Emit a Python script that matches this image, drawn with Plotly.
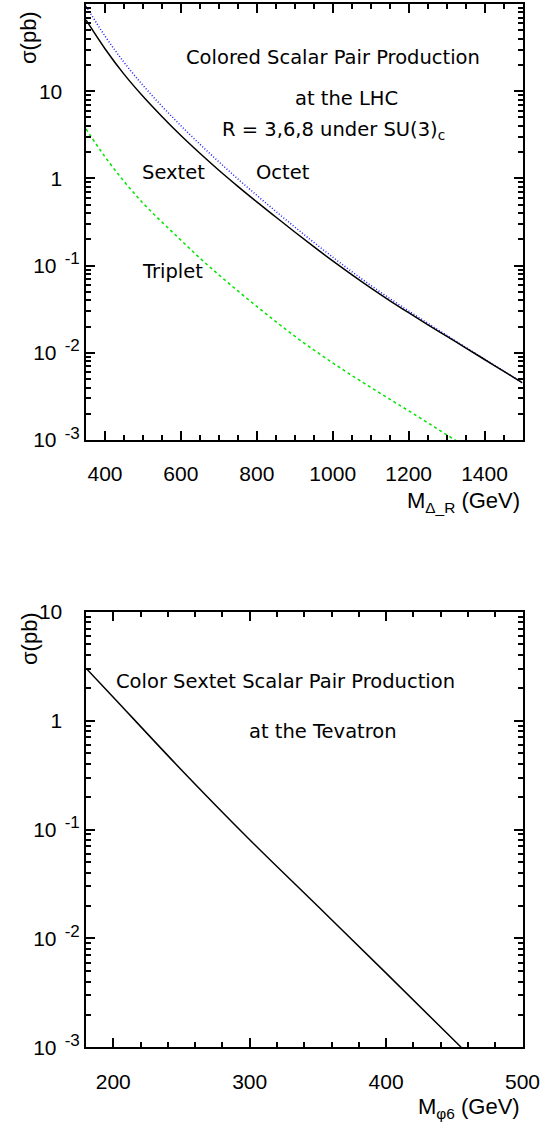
import math
import plotly.graph_objects as go

# LHC: pair-production cross sections (pb) vs scalar mass (GeV)
mass_lhc = [350, 400, 450, 500, 550, 600, 650, 700, 750, 800, 850, 900, 950, 1000,
            1050, 1100, 1150, 1200, 1250, 1300, 1350, 1400, 1450, 1500]
sigma_sextet = [65.6, 30.7, 15.7, 8.75, 5.13, 3.10, 1.94, 1.24, 0.811, 0.538, 0.361, 0.243, 0.165, 0.113,
                0.0787, 0.0555, 0.0397, 0.0288, 0.0211, 0.0155, 0.0114, 0.00838, 0.00615, 0.00452]
sigma_octet = [94.8, 42.9, 21.5, 11.7, 6.73, 4.02, 2.47, 1.55, 0.986, 0.640, 0.419, 0.277, 0.185, 0.125,
               0.0855, 0.0594, 0.0421, 0.0302, 0.0219, 0.0159, 0.0116, 0.00847, 0.00619, 0.00452]
sigma_triplet = [3.69, 1.77, 0.927, 0.521, 0.316, 0.196, 0.122, 0.0783, 0.0512, 0.0340, 0.0228, 0.0155, 0.0108, 0.00766,
                 0.00551, 0.00402, 0.00294, 0.00216, 0.00158, 0.00115, 0.000845, 0.000621, 0.000455, 0.000333]

# Tevatron: colour-sextet pair production
mass_tev = [180, 200, 250, 300, 350, 400, 455]
sigma_tev = [3.03, 1.64, 0.352, 0.0805, 0.0197, 0.0048, 0.0010]

x_ticks_lhc = [400, 600, 800, 1000, 1200, 1400]
x_ticks_tev = [200, 300, 400, 500]
y_ticks_lhc = [1e-3, 1e-2, 1e-1, 1, 10]
y_ticks_tev = [1e-3, 1e-2, 1e-1, 1, 10]

W, H = 544, 1130
NB = "\u00a0"


def ylabel(v):
    if v == 1:
        return "1" + NB * 3
    if v == 10:
        return "10" + NB * 3
    exp = int(round(math.log10(v)))
    return "10<sup>" + NB * 2 + "<span style=\"font-size:17px\">" + str(exp) + "</span></sup>"


def minor_log(lo, hi):
    vals = []
    for e in range(lo, hi):
        for k in range(2, 10):
            vals.append(k * 10 ** e)
    return vals


tick_font = dict(family="Liberation Sans, Arial, sans-serif", size=21, color="black")
text_font = dict(family="DejaVu Sans, sans-serif", size=19.5, color="black")

axis_common = dict(
    showline=True, linecolor="black", linewidth=2, mirror="allticks",
    ticks="inside", ticklen=9, tickwidth=1.5, tickcolor="black",
    showgrid=False, zeroline=False, tickfont=tick_font, automargin=False,
)

fig = go.Figure()

fig.add_trace(go.Scatter(x=mass_lhc, y=sigma_octet, mode="lines",
                         line=dict(color="#1a1aff", width=1.5, dash="1px,2px", shape="spline"),
                         xaxis="x", yaxis="y", name="Octet"))
fig.add_trace(go.Scatter(x=mass_lhc, y=sigma_sextet, mode="lines",
                         line=dict(color="black", width=1.5, shape="spline"),
                         xaxis="x", yaxis="y", name="Sextet"))
fig.add_trace(go.Scatter(x=mass_lhc, y=sigma_triplet, mode="lines",
                         line=dict(color="#00e600", width=1.5, dash="3px,3px", shape="spline"),
                         xaxis="x", yaxis="y", name="Triplet"))
fig.add_trace(go.Scatter(x=mass_tev, y=sigma_tev, mode="lines",
                         line=dict(color="black", width=1.5, shape="spline"),
                         xaxis="x2", yaxis="y2", name="Sextet (Tevatron)"))

xdom = [86 / W, 522.5 / W]

fig.update_layout(
    template="none",
    width=W, height=H,
    margin=dict(l=0, r=0, t=0, b=0, pad=0, autoexpand=False),
    paper_bgcolor="white", plot_bgcolor="white",
    showlegend=False,
    xaxis=dict(axis_common, domain=xdom, range=[350, 1500], anchor="y",
               tickmode="array", tickvals=x_ticks_lhc, ticklabelstandoff=14,
               minor=dict(dtick=50, tick0=0, ticks="inside", ticklen=5, tickwidth=1.5, tickcolor="black")),
    yaxis=dict(axis_common, domain=[1 - 440 / H, 1 - 4 / H], type="log", range=[-3, 2], anchor="x",
               tickmode="array", tickvals=y_ticks_lhc, ticktext=[ylabel(v) for v in y_ticks_lhc],
               ticklabelstandoff=0,
               minor=dict(tickmode="array", tickvals=minor_log(-3, 2), ticks="inside", ticklen=5,
                          tickwidth=1.5, tickcolor="black")),
    xaxis2=dict(axis_common, domain=xdom, range=[180, 500], anchor="y2",
                tickmode="array", tickvals=x_ticks_tev, ticklabelstandoff=14,
                minor=dict(dtick=20, tick0=0, ticks="inside", ticklen=5, tickwidth=1.5, tickcolor="black")),
    yaxis2=dict(axis_common, domain=[1 - 1047.3 / H, 1 - 611.7 / H], type="log", range=[-3, 1], anchor="x2",
                tickmode="array", tickvals=y_ticks_tev, ticktext=[ylabel(v) for v in y_ticks_tev],
                ticklabelstandoff=0,
                minor=dict(tickmode="array", tickvals=minor_log(-3, 1), ticks="inside", ticklen=5,
                           tickwidth=1.5, tickcolor="black")),
)

# labels inside the LHC panel (data coordinates; y in log10)
lhc_labels = [
    ("Colored Scalar Pair Production", 1000, 1.381),
    ("at the LHC", 1036, 0.922),
    ("R = 3,6,8 under SU(3)<sub>c</sub>", 1001, 0.555),
    ("Sextet", 580, 0.073),
    ("Octet", 870, 0.073),
    ("Triplet", 577, -1.073),
]
for txt, xv, yv in lhc_labels:
    fig.add_annotation(text=txt, x=xv, y=yv, xref="x", yref="y", showarrow=False,
                       xanchor="center", yanchor="middle", font=text_font)

tev_labels = [
    ("Color Sextet Scalar Pair Production", 326, 0.355),
    ("at the Tevatron", 354, -0.104),
]
for txt, xv, yv in tev_labels:
    fig.add_annotation(text=txt, x=xv, y=yv, xref="x2", yref="y2", showarrow=False,
                       xanchor="center", yanchor="middle", font=text_font)

# axis titles
title_font = dict(family="Liberation Sans, Arial, sans-serif", size=22, color="black")
fig.add_annotation(text="σ(pb)", x=29 / W, y=1 - 38 / H, xref="paper", yref="paper",
                   showarrow=False, textangle=-90, font=title_font, xanchor="center", yanchor="middle")
fig.add_annotation(text="σ(pb)", x=29 / W, y=1 - 639 / H, xref="paper", yref="paper",
                   showarrow=False, textangle=-90, font=title_font, xanchor="center", yanchor="middle")
fig.add_annotation(text="M<sub>Δ_R</sub> (GeV)", x=522 / W, y=1 - 502 / H, xref="paper", yref="paper",
                   showarrow=False, font=title_font, xanchor="right", yanchor="middle")
fig.add_annotation(text="M<sub>φ6</sub> (GeV)", x=522 / W, y=1 - 1108 / H, xref="paper", yref="paper",
                   showarrow=False, font=title_font, xanchor="right", yanchor="middle")

fig.write_html("out.html")
